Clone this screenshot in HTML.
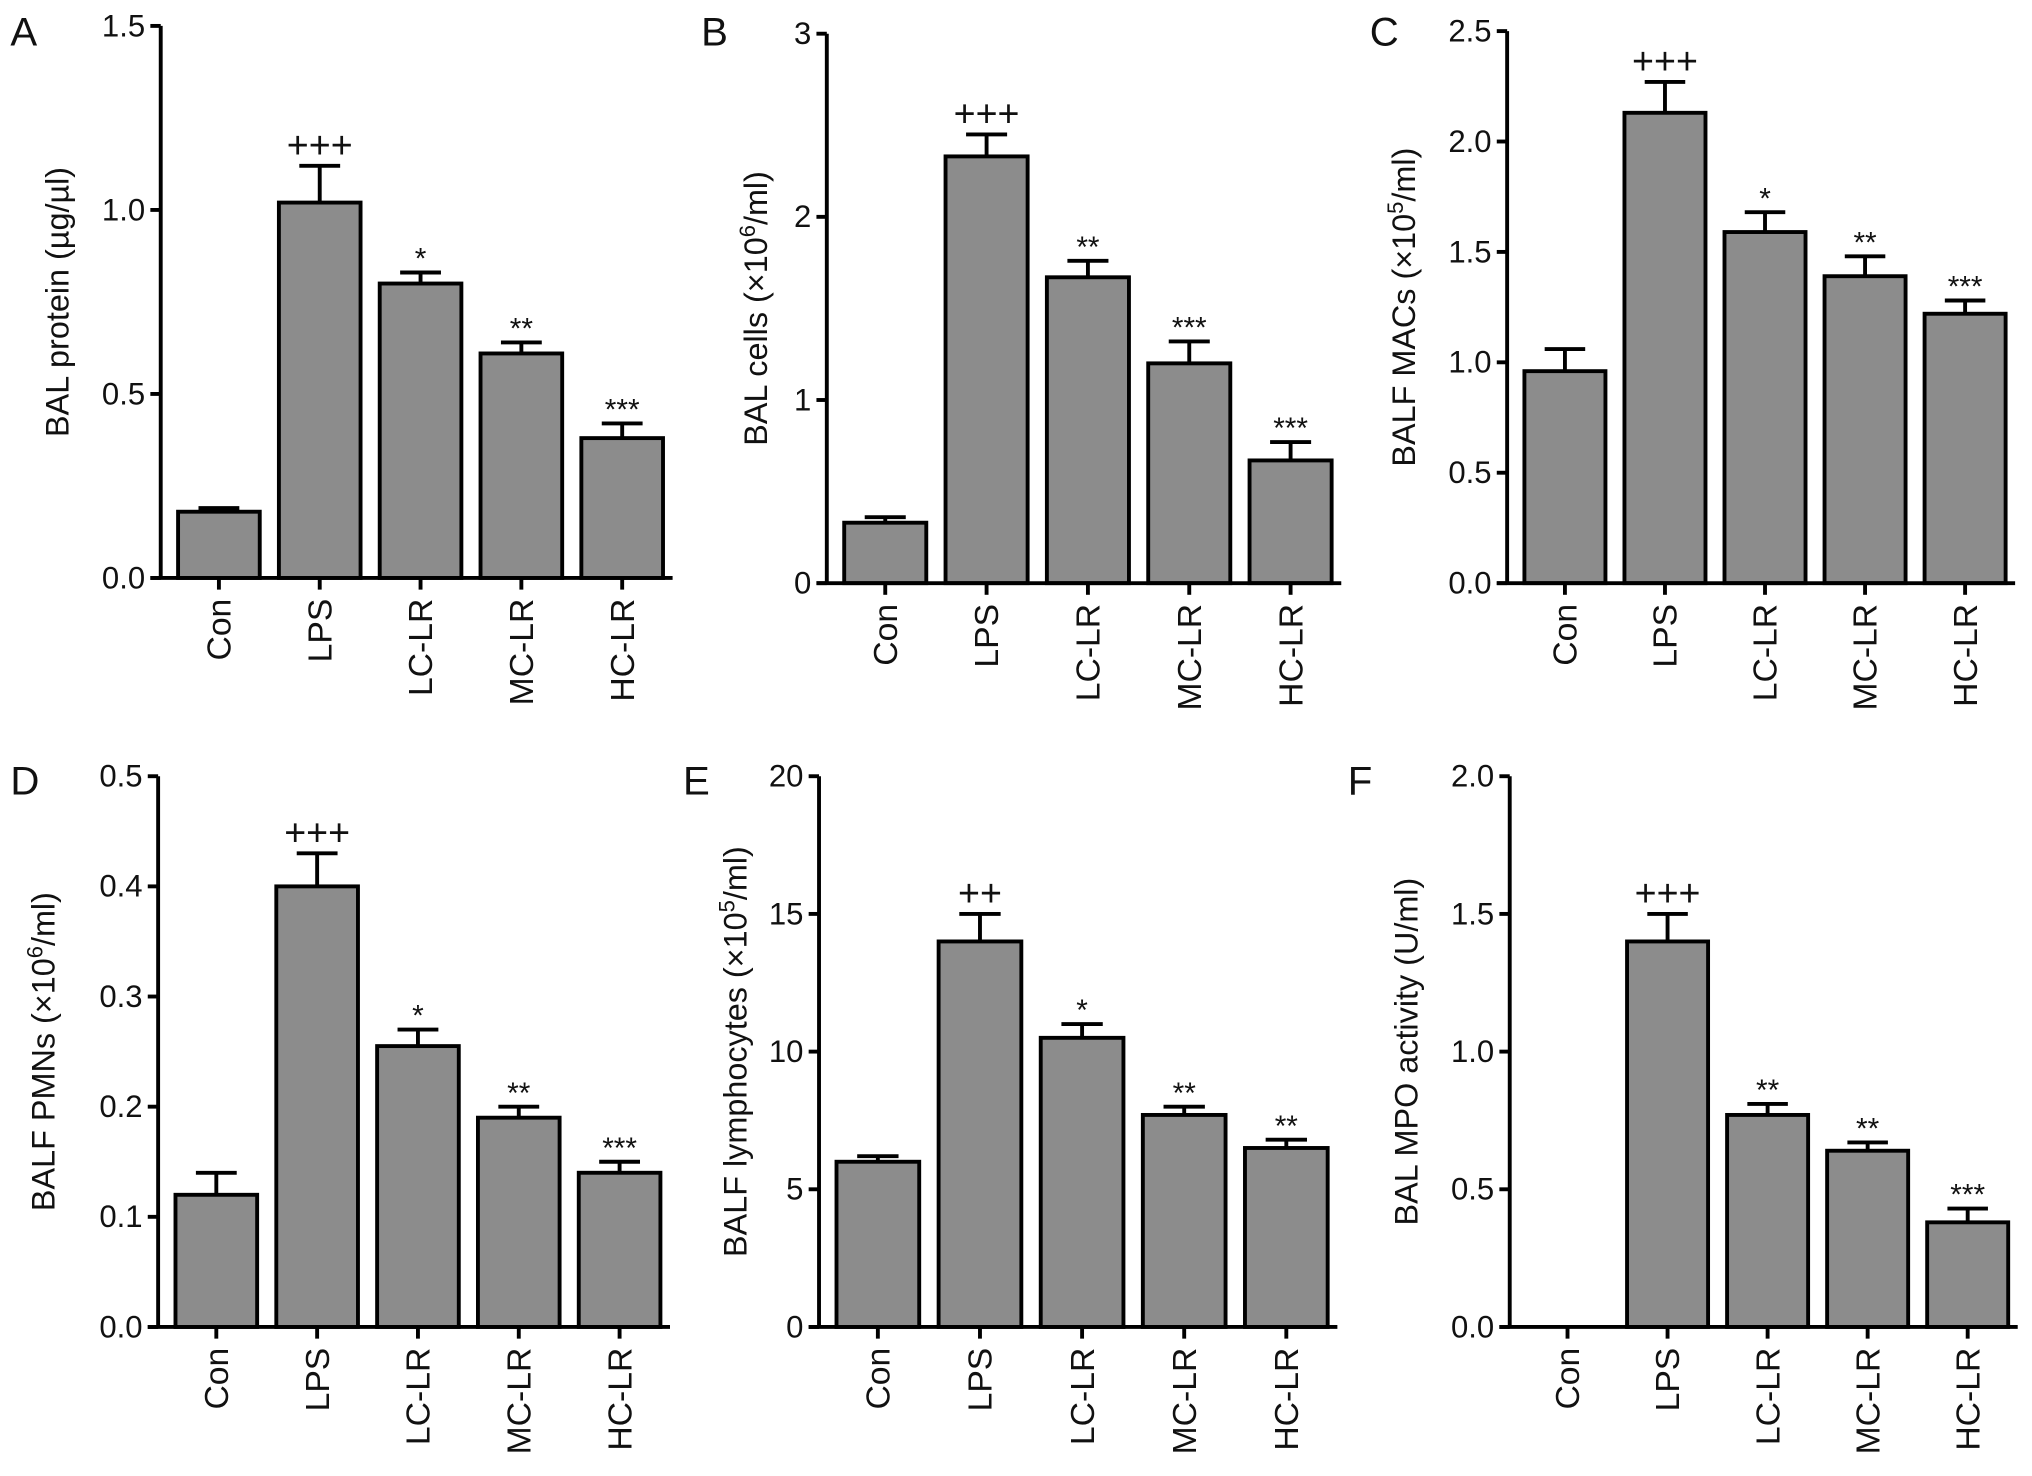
<!DOCTYPE html>
<html><head><meta charset="utf-8"><style>
html,body{margin:0;padding:0;background:#fff}
svg{display:block}
text{font-family:"Liberation Sans",Arial,sans-serif;fill:#111}
</style></head><body>
<svg id="fig" width="2032" height="1476" viewBox="0 0 1568 1139" xmlns="http://www.w3.org/2000/svg"></svg>
<script>
const categories=["Con","LPS","LC-LR","MC-LR","HC-LR"];
const meansA=[0.18,1.02,0.80,0.61,0.38];
const errA=[0.19,1.12,0.83,0.64,0.42];
const sigA=["","+++","*","**","***"];
const ticksA=["0.0","0.5","1.0","1.5"];
const meansB=[0.33,2.33,1.67,1.20,0.67];
const errB=[0.36,2.45,1.76,1.32,0.77];
const sigB=["","+++","**","***","***"];
const ticksB=["0","1","2","3"];
const meansC=[0.96,2.13,1.59,1.39,1.22];
const errC=[1.06,2.27,1.68,1.48,1.28];
const sigC=["","+++","*","**","***"];
const ticksC=["0.0","0.5","1.0","1.5","2.0","2.5"];
const meansD=[0.12,0.40,0.255,0.19,0.14];
const errD=[0.14,0.43,0.27,0.20,0.15];
const sigD=["","+++","*","**","***"];
const ticksD=["0.0","0.1","0.2","0.3","0.4","0.5"];
const meansE=[6.0,14.0,10.5,7.7,6.5];
const errE=[6.2,15.0,11.0,8.0,6.8];
const sigE=["","++","*","**","**"];
const ticksE=["0","5","10","15","20"];
const meansF=[0,1.40,0.77,0.64,0.38];
const errF=[0,1.50,0.81,0.67,0.43];
const sigF=["","+++","**","**","***"];
const ticksF=["0.0","0.5","1.0","1.5","2.0"];

const NS="http://www.w3.org/2000/svg";
const svg=document.getElementById('fig');
function mk(tag,attrs,parent){const e=document.createElementNS(NS,tag);for(const k in attrs)e.setAttribute(k,attrs[k]);(parent||svg).appendChild(e);return e;}

function panel(o){
  const g=mk('g',{});
  
  
  const ax=o.ax, top=o.top, zero=o.zero, w=o.w;
  const max=parseFloat(o.ticks[o.ticks.length-1]);
  const y=v=>zero-(v/max)*(zero-top);
  const pitch=(w-6)/5, bw=pitch*0.81;
  const xc=i=>ax+6+pitch*(i+0.5);
  const L=mk('text',{x:o.lx,y:o.ly,'font-size':31},g);L.textContent=o.letter;
  
  
  o.means.forEach((m,i)=>{
    if(m<=0)return;
    const eb=mk('line',{x1:xc(i),x2:xc(i),y1:y(m),y2:y(o.err[i]),stroke:'#000','stroke-width':3},g);
    
    
    const cap=mk('line',{x1:xc(i)-bw*0.25,x2:xc(i)+bw*0.25,y1:y(o.err[i]),y2:y(o.err[i]),stroke:'#000','stroke-width':3},g);
    
    
    const r=mk('rect',{x:xc(i)-bw/2,y:y(m),width:bw,height:zero-y(m),fill:'#8c8c8c',stroke:'#000','stroke-width':3},g);
    
    
    if(o.sig[i]){
      const plus=o.sig[i].includes('+');
      const t=mk('text',{x:xc(i),y:y(o.err[i])-(plus?6:3),'text-anchor':'middle','font-size':plus?29:23},g);
      t.textContent=o.sig[i];
      
      
    }
  });
  const ya=mk('line',{x1:ax,x2:ax,y1:top,y2:zero,stroke:'#000','stroke-width':3},g);
  
  
  const xa=mk('line',{x1:ax-8,x2:ax+w,y1:zero,y2:zero,stroke:'#000','stroke-width':3},g);
  
  
  o.ticks.forEach(tk=>{
    const v=parseFloat(tk);
    const tl=mk('line',{x1:ax-8,x2:ax,y1:y(v),y2:y(v),stroke:'#000','stroke-width':3},g);
    
    
    const t=mk('text',{x:ax-12,y:y(v)+8,'text-anchor':'end','font-size':24},g);
    t.textContent=tk;
    
    
  });
  categories.forEach((c,i)=>{
    const tl=mk('line',{x1:xc(i),x2:xc(i),y1:zero,y2:zero+9,stroke:'#000','stroke-width':3},g);
    
    
    const t=mk('text',{x:0,y:0,'text-anchor':'end','font-size':26,transform:`translate(${xc(i)+9},${zero+16}) rotate(-90)`},g);
    t.textContent=c;
    
    
  });
  const yt=mk('text',{x:0,y:0,'text-anchor':'middle','font-size':25,transform:`translate(${o.tx},${(top+zero)/2}) rotate(-90)`},g);
  yt.innerHTML=o.title;
  
  
}
panel({letter:'A',lx:8,ly:35,ax:124,top:20,zero:446,w:395,means:meansA,err:errA,sig:sigA,ticks:ticksA,tx:53,title:'BAL protein (µg/µl)'});
panel({letter:'B',lx:541,ly:35,ax:638,top:26,zero:450,w:397,means:meansB,err:errB,sig:sigB,ticks:ticksB,tx:592,title:'BAL cells (×10<tspan baseline-shift="super" font-size="17">6</tspan>/ml)'});
panel({letter:'C',lx:1057,ly:35,ax:1163,top:24,zero:450,w:392,means:meansC,err:errC,sig:sigC,ticks:ticksC,tx:1092,title:'BALF MACs (×10<tspan baseline-shift="super" font-size="17">5</tspan>/ml)'});
panel({letter:'D',lx:8,ly:613,ax:122,top:599,zero:1024,w:395,means:meansD,err:errD,sig:sigD,ticks:ticksD,tx:42,title:'BALF PMNs (×10<tspan baseline-shift="super" font-size="17">6</tspan>/ml)'});
panel({letter:'E',lx:527,ly:613,ax:632,top:599,zero:1024,w:400,means:meansE,err:errE,sig:sigE,ticks:ticksE,tx:576,title:'BALF lymphocytes (×10<tspan baseline-shift="super" font-size="17">5</tspan>/ml)'});
panel({letter:'F',lx:1040,ly:613,ax:1165,top:599,zero:1024,w:392,means:meansF,err:errF,sig:sigF,ticks:ticksF,tx:1094,title:'BAL MPO activity (U/ml)'});
</script>
</body></html>
